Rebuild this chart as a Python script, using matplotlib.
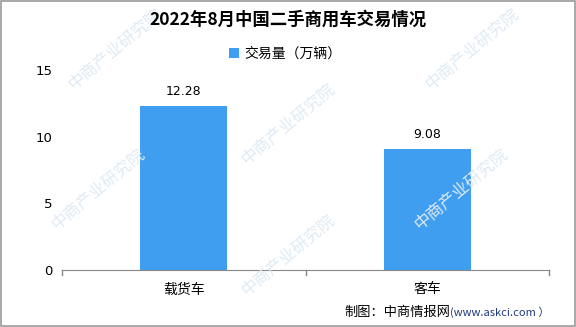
import matplotlib
matplotlib.use("Agg")
import matplotlib.pyplot as plt
from matplotlib.patches import Rectangle

plt.rcParams['font.family'] = ['Noto Sans CJK SC', 'DejaVu Sans']

categories = ['载货车', '客车']
values = [12.28, 9.08]
series_name = '交易量（万辆）'
title = '2022年8月中国二手商用车交易情况'
source_left = '制图：中商情报网'
source_right = '(www.askci.com ）'
yticks = [0, 5, 10, 15]

bar_color = '#409EF0'

fig = plt.figure(figsize=(5.76, 3.27), dpi=100)
fig.patch.set_facecolor('white')

# watermarks (kept inside the figure)
wm_pos = [(0.17, 0.42), (0.50, 0.62), (0.50, 0.22), (0.80, 0.42), (0.20, 0.85), (0.82, 0.85)]
for (x, y) in wm_pos:
    fig.text(x, y, '中商产业研究院', rotation=40, color='#dfeaf4', fontsize=12,
             ha='center', va='center', zorder=0)

ax = fig.add_axes([62/576, 57/327, 487/576, 200/327])
ax.set_facecolor('none')
x = list(range(len(categories)))
bars = ax.bar(x, values, width=0.357, color=bar_color, label=series_name, zorder=2)
for xi, v in zip(x, values):
    ax.text(xi, v + 0.6, f'{v:.2f}', ha='center', va='bottom', fontsize=9,
            family=['DejaVu Sans'], color='black')

ax.set_xlim(-0.5, len(categories) - 0.5)
ax.set_ylim(0, 15)
ax.set_yticks(yticks)
ax.set_yticklabels([str(t) for t in yticks], fontsize=9.5, family=['DejaVu Sans'])
ax.set_xticks(x)
ax.set_xticklabels(categories, fontsize=10)
for s in ['top', 'right', 'left']:
    ax.spines[s].set_visible(False)
ax.spines['bottom'].set_color('#888888')
ax.tick_params(axis='y', length=0, pad=7)
ax.tick_params(axis='x', length=0, pad=9)
for b in [-0.5, 0.5, 1.5]:
    ax.plot([b, b], [0, -0.35], color='#888888', lw=1, clip_on=False, zorder=3)

fig.text(0.5, 1 - 20/327, title, ha='center', va='center', fontsize=12.5, fontweight='bold')
leg = fig.legend(handles=[bars], labels=[series_name], loc='center',
                 bbox_to_anchor=(0.495, 1 - 54/327), frameon=False, fontsize=10,
                 handlelength=0.75, handleheight=0.75, handletextpad=0.4)

ty = 1 - 312/327
t_right = fig.text(550/576, ty, source_right, ha='right', va='center', fontsize=8,
                   color='#1F3A7A')
fig.canvas.draw()
bb = t_right.get_window_extent(renderer=fig.canvas.get_renderer())
fig.text(bb.x0 / fig.bbox.width, ty, source_left, ha='right', va='center', fontsize=9.5,
         color='black')

fig.patches.append(Rectangle((0.0015, 0.003), 0.997, 0.994, transform=fig.transFigure,
                             fill=False, edgecolor='#999999', lw=1.2))

fig.savefig('out.png', dpi=100)
